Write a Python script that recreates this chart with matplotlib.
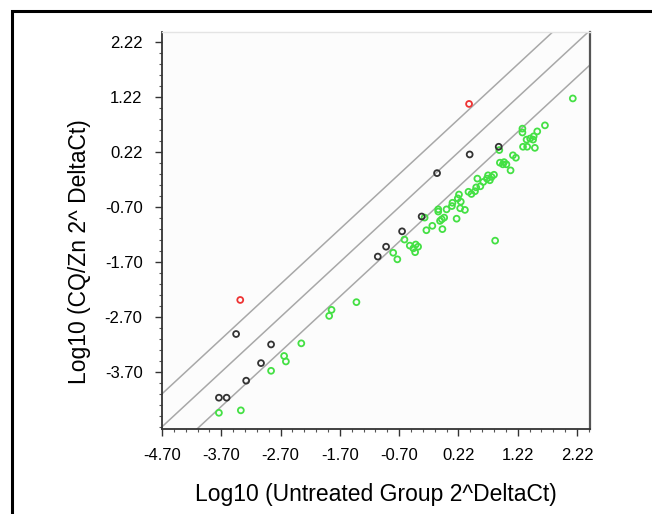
import matplotlib
matplotlib.use('Agg')
import matplotlib.pyplot as plt
import numpy as np
from matplotlib.patches import Rectangle
from matplotlib.ticker import FixedLocator, FixedFormatter

plt.rcParams['font.family'] = ['Liberation Sans', 'DejaVu Sans']

# axis positions are evenly spaced; labels as printed on the chart
x_ticks = [-4.7, -3.7, -2.7, -1.7, -0.7, 0.3, 1.3, 2.3]
x_labels = ['-4.70', '-3.70', '-2.70', '-1.70', '-0.70', '0.22', '1.22', '2.22']
y_ticks = [-3.7, -2.7, -1.7, -0.7, 0.3, 1.3, 2.3]
y_labels = ['-3.70', '-2.70', '-1.70', '-0.70', '0.22', '1.22', '2.22']

# fold-change boundaries around the identity line
line_offsets = [0.6, 0.0, -0.63]

green_x = [1.38, 1.38, 1.63, 1.76, 1.45, 1.51, 1.57, 1.56, 1.39, 1.46, 1.59, 2.23,
           0.99, 1.22, 1.27, 1.00, 1.07, 1.11, 1.05, 1.18, 0.90, 0.80, 0.86, 0.78,
           0.83, 0.72, 0.62, 0.67, 0.60, 0.47, 0.52, 0.58, 0.31, 0.29, 0.34, 0.20,
           0.19, 0.10, 0.33, 0.41, -0.04, -0.04, 0.06, 0.02, -0.01, 0.27, -0.14,
           -0.24, 0.03, -0.27, -0.61, -0.52, -0.42, -0.38, -0.46, -0.43, -0.80,
           -0.73, 0.92, -1.42, -1.84, -1.88, -2.35, -2.64, -2.61, -2.86, -3.74, -3.37]
green_y = [0.73, 0.66, 0.68, 0.79, 0.53, 0.55, 0.59, 0.53, 0.40, 0.40, 0.38, 1.28,
           0.34, 0.245, 0.20, 0.11, 0.12, 0.08, 0.08, -0.03, -0.11, -0.12, -0.15, -0.18,
           -0.21, -0.24, -0.18, -0.32, -0.34, -0.42, -0.46, -0.41, -0.47, -0.54, -0.60, -0.62,
           -0.68, -0.74, -0.72, -0.75, -0.74, -0.78, -0.89, -0.92, -0.95, -0.91, -1.04,
           -1.12, -1.10, -0.89, -1.29, -1.40, -1.38, -1.42, -1.45, -1.52, -1.53,
           -1.65, -1.31, -2.43, -2.57, -2.68, -3.18, -3.41, -3.51, -3.68, -4.445, -4.40]

black_x = [0.98, 0.49, -0.06, -0.32, -0.65, -0.92, -1.06, -3.45, -2.86, -3.03, -3.28, -3.74, -3.61]
black_y = [0.40, 0.26, -0.08, -0.87, -1.14, -1.42, -1.60, -3.01, -3.20, -3.54, -3.86, -4.17, -4.17]

red_x = [0.48, -3.38]
red_y = [1.18, -2.39]

xlim = (-4.70, 2.52)
ylim = (-4.74, 2.49)

fig = plt.figure(figsize=(6.52, 5.14), dpi=100)
ax = fig.add_axes([162 / 652, 85 / 514, 428 / 652, 397 / 514])
ax.set_facecolor('#fcfcfc')

xx = np.array([-6, 4])
for off in line_offsets:
    ax.plot(xx, xx + off, color='#a8a8a8', lw=1.1, zorder=1)

mk = dict(s=18, facecolors='none', linewidths=1.3, zorder=3)
ax.scatter(green_x, green_y, edgecolors='#44e044', **mk)
ax.scatter(black_x, black_y, edgecolors='#333333', **mk)
ax.scatter(red_x, red_y, edgecolors='#ee3333', **mk)

ax.set_xlim(*xlim)
ax.set_ylim(*ylim)

ax.xaxis.set_major_locator(FixedLocator(x_ticks))
ax.xaxis.set_major_formatter(FixedFormatter(x_labels))
ax.yaxis.set_major_locator(FixedLocator(y_ticks))
ax.yaxis.set_major_formatter(FixedFormatter(y_labels))
ax.xaxis.set_minor_locator(FixedLocator(np.arange(-4.7, 2.55, 0.2)))
ax.yaxis.set_minor_locator(FixedLocator(np.arange(-4.7, 2.55, 0.2)))

ax.tick_params(which='major', length=5, width=1.0, color='#333333',
               labelsize=12, pad=9)
ax.tick_params(which='minor', length=2.5, width=0.8, color='#555555')

for side in ['left', 'bottom']:
    ax.spines[side].set_color('#333333')
    ax.spines[side].set_linewidth(1.3)
ax.spines['right'].set_color('#555555')
ax.spines['right'].set_linewidth(1.6)
ax.spines['top'].set_color('#e4e4e4')
ax.spines['top'].set_linewidth(1.0)

ax.set_xlabel('Log10 (Untreated Group 2^DeltaCt)', fontsize=16.5)
ax.set_ylabel('Log10 (CQ/Zn 2^ DeltaCt)', fontsize=16.5)
ax.xaxis.set_label_coords(0.5, -0.135)
ax.yaxis.set_label_coords(-0.165, 0.446)

# outer frame, cut off at the right and bottom edges
fig.add_artist(Rectangle((11.5 / 652, -0.2), 1.5, 1.2 - 11.5 / 514,
                         transform=fig.transFigure, fill=False,
                         edgecolor='black', lw=2.2))

fig.savefig('out.png', dpi=100)
